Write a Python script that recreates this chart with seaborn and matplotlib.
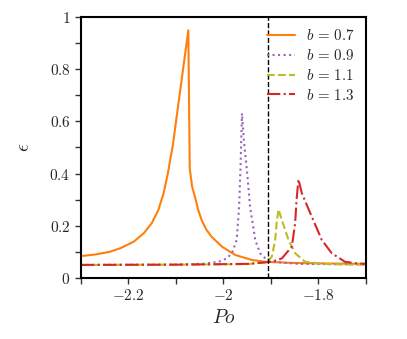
import matplotlib
matplotlib.use("Agg")
import matplotlib.pyplot as plt
import seaborn as sns
import pandas as pd
from matplotlib.ticker import MultipleLocator

# Data
x_07 = [-2.300, -2.270, -2.240, -2.217, -2.189, -2.168, -2.151, -2.137, -2.126,
        -2.117, -2.111, -2.107, -2.074, -2.071, -2.066, -2.060, -2.053, -2.046,
        -2.036, -2.025, -2.003, -1.975, -1.940, -1.912, -1.860, -1.807, -1.750,
        -1.700]
y_07 = [0.084, 0.090, 0.100, 0.114, 0.139, 0.171, 0.210, 0.261, 0.325,
        0.401, 0.465, 0.503, 0.949, 0.420, 0.350, 0.311, 0.260, 0.222,
        0.185, 0.158, 0.120, 0.088, 0.069, 0.062, 0.058, 0.056, 0.055,
        0.054]

x_09 = [-2.300, -2.100, -2.040, -2.010, -1.993, -1.982, -1.972, -1.967, -1.964,
        -1.961, -1.957, -1.950, -1.944, -1.933, -1.923, -1.910, -1.895, -1.870,
        -1.841, -1.780, -1.700]
y_09 = [0.050, 0.051, 0.055, 0.062, 0.075, 0.095, 0.146, 0.273, 0.426,
        0.631, 0.529, 0.401, 0.273, 0.146, 0.095, 0.072, 0.063, 0.058,
        0.054, 0.053, 0.052]

x_11 = [-2.300, -2.100, -1.950, -1.910, -1.898, -1.891, -1.888, -1.884,
        -1.877, -1.863, -1.849, -1.828, -1.790, -1.750, -1.700]
y_11 = [0.050, 0.051, 0.053, 0.060, 0.082, 0.146, 0.210, 0.263,
        0.222, 0.146, 0.095, 0.062, 0.054, 0.052, 0.051]

x_13 = [-2.300, -2.100, -1.950, -1.898, -1.877, -1.856, -1.849, -1.846, -1.842,
        -1.835, -1.814, -1.793, -1.772, -1.744, -1.720, -1.700]
y_13 = [0.050, 0.051, 0.054, 0.062, 0.075, 0.120, 0.210, 0.300, 0.378,
        0.325, 0.235, 0.146, 0.095, 0.062, 0.056, 0.054]

b_labels = ["0.7", "0.9", "1.1", "1.3"]
vline_x = -1.907

x_ticks = [-2.2, -2.0, -1.8]
x_ticklabels = ["$-2.2$", "$-2$", "$-1.8$"]
y_ticks = [0, 0.2, 0.4, 0.6, 0.8, 1.0]
y_ticklabels = ["$0$", "$0.2$", "$0.4$", "$0.6$", "$0.8$", "$1$"]

sns.set_style("ticks")
plt.rcParams["mathtext.fontset"] = "cm"
plt.rcParams["font.family"] = ["DejaVu Serif"]

fig = plt.figure(figsize=(4.07, 3.39), dpi=100)
ax = fig.add_axes([0.199, 0.18, 0.700, 0.770])

series = [(x_07, y_07, "#ff7f0e", "-"),
          (x_09, y_09, "#9467bd", ":"),
          (x_11, y_11, "#bcbd22", "--"),
          (x_13, y_13, "#d62728", "-.")]

for (xs, ys, col, ls), b in zip(series, b_labels):
    df = pd.DataFrame({"Po": xs, "eps": ys})
    sns.lineplot(data=df, x="Po", y="eps", ax=ax, color=col, linestyle=ls,
                 linewidth=1.5, estimator=None, sort=False,
                 label=rf"$b\,=\,{b}$")

ax.axvline(vline_x, color="black", linestyle="--", linewidth=1.0)

ax.set_xlim(-2.3, -1.7)
ax.set_ylim(0, 1)
ax.set_xticks(x_ticks)
ax.set_xticklabels(x_ticklabels, fontsize=11)
ax.set_yticks(y_ticks)
ax.set_yticklabels(y_ticklabels, fontsize=11)
ax.xaxis.set_minor_locator(MultipleLocator(0.1))
ax.yaxis.set_minor_locator(MultipleLocator(0.1))
ax.tick_params(which="both", direction="out", length=4, width=1.0, color="#333333")
for s in ax.spines.values():
    s.set_linewidth(1.5)
    s.set_color("black")

ax.set_xlabel("$Po$", fontsize=14)
ax.set_ylabel(r"$\epsilon$", fontsize=14, labelpad=12)

leg = ax.legend(loc="upper right", frameon=False, fontsize=10.8,
                handlelength=1.9, handletextpad=0.7, borderaxespad=0.35,
                labelspacing=0.32)

fig.savefig("out.png", dpi=100)
